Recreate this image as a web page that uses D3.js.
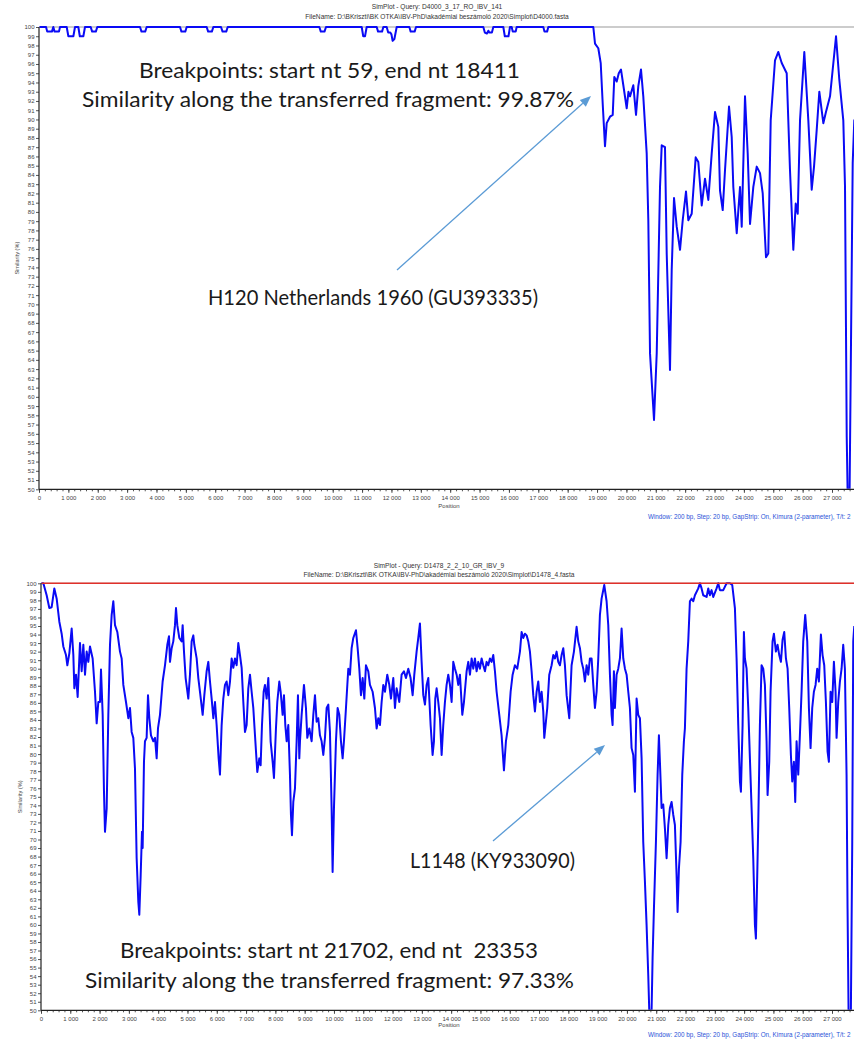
<!DOCTYPE html>
<html><head><meta charset="utf-8">
<script src="https://cdn.jsdelivr.net/npm/d3@7"></script>
<style>body{margin:0;background:#fff;} svg{display:block;} text{white-space:pre;}</style>
</head><body>
<svg id="c" width="854" height="1040"></svg>
<script>
// ---------- DATA ----------
const yTickValues = d3.range(50, 101, 1);
const xMajorTicks = d3.range(0, 27001, 1000);
const xMinorTicks = d3.range(0, 27801, 200);

const topTitle = "SimPlot - Query: D4000_3_17_RO_IBV_141";
const topFile = "FileName: D:\\BKriszti\\BK OTKA\\IBV-PhD\\akadémiai beszámoló 2020\\Simplot\\D4000.fasta";
const botTitle = "SimPlot - Query: D1478_2_2_10_GR_IBV_9";
const botFile = "FileName: D:\\BKriszti\\BK OTKA\\IBV-PhD\\akadémiai beszámoló 2020\\Simplot\\D1478_4.fasta";
const footer = "Window: 200 bp, Step: 20 bp, GapStrip: On, Kimura (2-parameter), T/t: 2";

const topPositions = [0,240,280,440,487,530,680,715,943,1000,1170,1226,1339,1390,1510,1566,1760,1810,1935,1985,
3439,3490,3615,3667,4801,4850,4980,5029,5709,5760,5885,5936,6197,6250,6375,6425,9545,9595,9720,9772,
10987,11040,11100,11157,11498,11545,11680,11724,11838,11890,11960,12000,12040,12100,12179,12609,12655,12790,12837,
15128,15180,15250,15300,15330,15420,15469,15809,15860,15985,16036,16094,16130,16230,16264,17171,17210,17300,17341,
18873,18931,19043,19125,19193,19271,19329,19442,19534,19588,19670,19740,19816,19895,20010,20070,20123,20235,20327,20405,20497,20575,
20691,20746,20804,20940,21032,21144,21202,21314,21372,21484,21542,21621,21713,21825,21917,22029,22108,22223,22359,22448,
22564,22676,22789,22904,23017,23129,23187,23279,23357,23494,23585,23640,23756,23868,23926,24038,24130,24209,24321,24437,
24549,24641,24753,24831,24913,25060,25172,25288,25458,25570,25683,25765,25833,25911,26057,26194,26309,26388,26480,26568,
26705,26786,26933,27137,27249,27385,27443,27501,27530,27600,27705,27760];
const topSimilarity = [100,100,99.5,99.5,100,99.5,99.5,100,100,99,99,100,100,99,99,100,100,99.5,99.5,100,
100,99.5,99.5,100,100,99.5,99.5,100,100,99.5,99.5,100,100,99.5,99.5,100,100,99.5,99.5,100,
100,99,99,100,100,99.5,99.5,100,100,99.4,99.4,99.2,98.5,98.7,100,100,99.5,99.5,100,
100,99.4,99.3,99.6,99.4,99.4,100,100,99,99,100,100,99.5,99.5,100,100,99.5,99.5,100,
100,98.2,97.7,96.1,91.7,87.1,89.6,90.3,90.5,94.6,94.1,95.0,95.4,93.7,91.2,93.0,92.5,93.7,90.5,93.6,95.4,92.5,
86.3,79.1,64.7,57.5,64.7,82.7,87.2,87.0,75.5,62.9,73.7,81.5,78.4,75.9,79.1,82.2,79.1,79.8,85.9,85.4,
80.7,83.6,81.3,86.3,90.8,89.2,82.3,80.2,84.5,91.4,88.1,82.7,77.7,82.7,78.4,92.5,86.3,78.7,82.7,84.9,
84.2,82.0,75.1,75.5,89.9,96.4,97.3,96.1,95.0,84.5,75.9,80.9,79.8,89.9,97.3,89.9,82.4,84.9,88.9,93.0,
89.6,90.7,92.5,99.0,94.3,89.9,82.7,55.7,50,50,85.3,90];

const botPositions = [0,80,193,284,364,455,535,626,705,762,853,899,967,1047,1104,1138,1195,1251,1331,1388,1445,1502,1559,1615,1672,1763,1843,1900,1957,2014,
2048,2105,2150,2184,2241,2298,2355,2412,2469,2526,2605,2696,2753,2810,2901,2981,3038,3094,3151,3208,3265,3322,3356,3402,3447,3470,3515,3549,3606,3652,
3697,3754,3834,3891,3948,3993,4061,4152,4232,4312,4369,4403,4460,4516,4573,4608,4653,4721,4801,4835,4881,4937,5028,5085,5142,5199,5233,5313,5370,5427,
5518,5575,5654,5711,5768,5825,5882,5939,5995,6064,6109,6166,6223,6280,6337,6394,6451,6507,6564,6621,6678,6735,6792,6849,6906,6962,7019,7076,7133,7190,
7247,7304,7383,7452,7497,7543,7600,7645,7702,7759,7793,7838,7907,7952,8020,8066,8134,8180,8248,8294,8339,8385,8441,8498,8532,8567,8612,8669,8726,8771,8817,
8840,8896,8976,9044,9090,9158,9238,9295,9352,9408,9465,9522,9579,9636,9693,9750,9807,9863,9920,9954,10000,10068,10125,10182,10239,10296,10341,10410,10489,10546,
10603,10660,10751,10808,10865,10922,10979,11036,11092,11172,11229,11320,11399,11456,11513,11570,11627,11684,11741,11820,11889,11945,12025,12082,12139,12230,12309,12389,12457,12537,
12616,12685,12742,12821,12878,12935,12992,13049,13106,13163,13220,13299,13367,13413,13458,13504,13561,13618,13675,13731,13788,13845,13902,13959,14016,14073,14130,14187,14243,14300,
14380,14437,14528,14585,14642,14699,14755,14812,14869,14926,14983,15040,15097,15154,15210,15267,15324,15381,15438,15495,15552,15643,15722,15802,15870,15950,16030,16098,16177,16257,
16348,16405,16462,16519,16576,16633,16689,16746,16803,16860,16917,16974,17031,17088,17144,17179,17235,17281,17349,17429,17486,17543,17599,17656,17713,17770,17827,17884,17941,18032,
18111,18191,18282,18339,18396,18453,18510,18567,18623,18680,18737,18794,18851,18908,18965,19022,19078,19135,19226,19306,19363,19420,19477,19511,19556,19590,19647,19704,19761,19818,
19875,19932,19989,20046,20102,20159,20216,20273,20330,20387,20444,20501,20557,20614,20671,20728,20762,20842,20876,20922,20990,21047,21092,21126,21183,21240,21297,21354,21411,21468,
21524,21581,21638,21695,21729,21775,21832,21889,21945,21979,22036,22093,22150,22207,22264,22321,22435,22491,22548,22605,22719,22776,22833,22890,22947,23060,23117,23174,23288,23402,
23515,23595,23686,23743,23800,23857,23891,23948,23993,24027,24084,24141,24198,24255,24312,24369,24403,24448,24482,24539,24596,24653,24710,24767,24801,24858,24903,24971,25017,25085,
25142,25199,25256,25313,25370,25427,25484,25540,25597,25643,25700,25745,25791,25848,25904,25961,26018,26086,26155,26212,26268,26325,26382,26439,26496,26553,26621,26678,26735,26792,
26849,26894,26951,27008,27065,27122,27156,27213,27270,27327,27383,27440,27497,27531,27565,27645,27691,27725,27760];
const botSimilarity = [100,100,98.6,97.1,97.2,99.4,98.2,95.5,94.1,92.6,91.6,90.4,91.8,94.7,91.6,87.7,89.3,86.7,93.0,89.7,92.8,89.3,92.0,90.8,92.6,91.2,87.3,83.6,86.1,86.1,
89.9,84.6,75.6,70.9,73.6,84.6,92.8,96.3,97.9,95.1,94.3,92.0,91.2,88.1,86.1,84.2,85.4,82.6,81.9,78.3,67.8,62.7,61.2,65.8,70.9,69.0,79.1,81.5,81.9,86.9,
84.2,82.2,81.5,81.9,79.5,83.0,84.6,88.5,90.4,92.8,93.8,90.8,92.4,93.2,95.1,97.1,95.1,93.6,93.2,95.1,92.0,88.9,86.5,89.3,93.2,93.9,92.8,91.2,88.9,87.3,
84.6,86.9,89.7,90.8,88.5,86.5,84.2,86.1,83.4,79.5,77.6,83.4,86.5,88.1,88.5,86.9,88.5,91.2,90.1,91.2,90.4,93.0,91.6,90.1,86.1,82.6,83.4,87.7,89.3,87.3,
85.4,82.2,77.9,79.5,78.7,83.4,87.3,88.1,86.5,88.9,86.1,81.5,79.1,77.2,83.0,86.1,88.5,87.3,84.6,86.9,83.4,81.5,83.4,77.6,72.9,70.5,74.4,76.0,81.5,86.9,79.5,
81.5,84.6,88.1,85.4,81.9,83.0,81.5,84.6,86.9,83.8,84.2,82.2,81.5,79.9,81.9,85.4,85.8,82.6,73.7,66.2,73.7,81.5,85.4,84.6,81.5,79.5,81.5,85.4,90.0,89.3,
92.4,93.6,94.5,92.4,90.0,86.9,88.9,86.5,90.4,89.7,88.1,87.3,85.4,83.0,84.2,83.4,86.1,88.1,87.3,89.3,88.1,86.5,88.9,85.4,87.7,86.1,89.3,89.7,88.9,90.0,
88.9,86.9,89.3,92.0,93.6,95.3,90.8,86.9,85.8,88.1,88.9,83.4,79.9,81.5,86.5,87.7,86.1,84.2,79.9,83.4,86.1,88.1,89.3,88.1,86.1,90.8,90.0,89.3,88.1,89.3,
84.6,86.1,89.7,90.8,89.3,91.2,90.0,91.2,89.7,90.8,90.0,91.2,90.4,89.7,90.8,90.4,91.2,90.8,91.6,89.7,87.3,84.6,82.2,78.1,81.5,83.4,87.3,89.3,90.4,90.0,
92.0,94.3,93.6,94.1,93.9,93.2,92.0,89.7,86.9,85.0,87.3,88.5,86.1,87.3,85.0,81.9,83.8,85.4,89.3,90.4,91.6,91.2,92.0,90.8,90.4,91.6,92.4,90.4,86.9,84.2,
90.4,92.0,94.9,93.2,92.4,90.8,90.0,88.5,90.4,89.3,91.2,91.2,88.1,85.4,87.3,91.2,96.3,98.2,99.8,97.9,95.1,89.3,84.6,83.4,89.7,85.4,89.3,90.0,91.2,94.7,
91.2,90.0,89.3,87.3,85.4,80.7,79.9,75.6,86.5,84.6,84.2,79.5,69.7,65.1,60.0,54.1,50,50,56.1,61.9,69.7,77.6,82.2,79.1,73.7,74.1,71.3,67.8,71.7,73.7,
74.4,72.9,71.7,65.8,61.5,66.6,69.7,77.6,81.5,83.0,90.0,93.2,97.9,98.2,97.9,98.6,99.4,100,99.4,98.6,98.4,99.4,98.6,99.2,98.4,99.4,100,99.2,99.2,100,
100,99.8,97.1,91.2,83.4,76.8,75.6,83.4,94.3,91.2,90.0,85.4,79.5,73.7,67.8,60.0,58.4,65.8,71.7,83.4,90.4,90.0,88.1,81.5,75.2,79.1,87.3,93.2,94.1,92.0,
92.8,91.6,90.8,93.4,94.3,91.2,90.0,85.4,79.9,76.8,79.1,74.4,81.5,77.6,82.2,87.3,93.2,96.3,93.2,85.4,80.7,85.4,87.3,88.1,90.0,88.5,94.0,91.6,90.4,86.1,
80.3,79.1,87.3,86.1,90.8,87.3,81.9,86.1,88.5,90.0,92.8,90.0,77.6,61.9,50,50,69.7,93.2,95];

// ---------- DRAW ----------
const svg = d3.select("#c");
const SANS = "'Liberation Sans', Arial, sans-serif";
const ANN = "Lato, 'Open Sans', sans-serif";
const fmtPos = d => d3.format(",")(d).replace(/,/g, " ");

function panel(cfg, idx) {
  const g = svg.append("g");
  const x = d3.scaleLinear().domain([0, 27000]).range([cfg.x0, cfg.x27]);
  const y = d3.scaleLinear().domain([50, 100]).range([cfg.yB, cfg.yT]);
  const right = 854;

  g.append("text").attr("x", cfg.tx).attr("y", cfg.t1y).attr("text-anchor", "middle")
    .attr("font-family", SANS).attr("font-size", 6.6).attr("fill", "#333").text(cfg.title);
  g.append("text").attr("x", cfg.tx).attr("y", cfg.t2y).attr("text-anchor", "middle")
    .attr("font-family", SANS).attr("font-size", 6.6).attr("fill", "#333").text(cfg.file);

  g.append("line").attr("x1", cfg.x0).attr("x2", right).attr("y1", cfg.yT).attr("y2", cfg.yT)
    .attr("stroke", "#999").attr("stroke-width", 1);

  const ya = g.append("g").attr("transform", `translate(${cfg.x0},0)`)
    .call(d3.axisLeft(y).tickValues(yTickValues).tickSize(3).tickPadding(1.5).tickFormat(d3.format("d")));
  ya.select(".domain").remove();
  ya.selectAll("line").attr("stroke", "#555");
  ya.selectAll("text").attr("font-family", SANS).attr("font-size", 6).attr("fill", "#444");

  const xa = g.append("g").attr("transform", `translate(0,${cfg.yB})`);
  xa.call(d3.axisBottom(x).tickValues(xMinorTicks).tickSize(2).tickFormat(""));
  xa.select(".domain").remove();
  xa.selectAll("line").attr("stroke", "#555");
  const xb = g.append("g").attr("transform", `translate(0,${cfg.yB})`)
    .call(d3.axisBottom(x).tickValues(xMajorTicks).tickSize(3.5).tickPadding(2.5).tickFormat(fmtPos));
  xb.select(".domain").remove();
  xb.selectAll("line").attr("stroke", "#444");
  xb.selectAll("text").attr("font-family", SANS).attr("font-size", 6).attr("fill", "#444");

  g.append("text").attr("x", 449).attr("y", cfg.yB + cfg.posDy).attr("text-anchor", "middle")
    .attr("font-family", SANS).attr("font-size", 6).attr("fill", "#444").text("Position");
  g.append("text").attr("transform", `translate(${cfg.ytx},${(cfg.yT + cfg.yB) / 2}) rotate(-90)`)
    .attr("text-anchor", "middle").attr("font-family", SANS).attr("font-size", 5.6).attr("fill", "#444")
    .text("Similarity (%)");

  g.append("text").attr("x", 648).attr("y", cfg.yB + cfg.footDy).attr("font-family", SANS)
    .attr("font-size", 6.3).attr("fill", "#2a52d8").text(footer);

  g.append("clipPath").attr("id", "clip" + idx).append("rect")
    .attr("x", cfg.x0 + 0.5).attr("y", cfg.yT - 2).attr("width", right - cfg.x0).attr("height", cfg.yB - cfg.yT + 1.5);

  const pts = cfg.pos.map((p, i) => [p, cfg.val[i]]);
  const line = d3.line().x(d => x(d[0])).y(d => y(Math.max(50, d[1])));
  g.append("path").datum(pts).attr("clip-path", `url(#clip${idx})`).attr("d", line)
    .attr("fill", "none").attr("stroke", "#0a0af5").attr("stroke-width", 2).attr("stroke-linejoin", "round");

  if (cfg.refColor) {
    g.append("path").datum([[0, 100], [27800, 100]]).attr("clip-path", `url(#clip${idx})`).attr("d", line)
      .attr("fill", "none").attr("stroke", cfg.refColor).attr("stroke-width", 1.6);
  }

  g.append("line").attr("x1", cfg.x0).attr("x2", cfg.x0).attr("y1", cfg.yT).attr("y2", cfg.yB)
    .attr("stroke", "#222").attr("stroke-width", 1.2);
  g.append("line").attr("x1", cfg.x0).attr("x2", right).attr("y1", cfg.yB).attr("y2", cfg.yB)
    .attr("stroke", "#222").attr("stroke-width", 1.2);

  cfg.texts.forEach(t => {
    g.append("text").attr("x", t.x1).attr("y", t.y).attr("font-family", ANN).attr("font-size", 21.5)
      .attr("fill", "#1a1a1a").attr("textLength", t.x2 - t.x1).attr("lengthAdjust", "spacingAndGlyphs")
      .text(t.s);
  });
  const a = cfg.arrow;
  const ang = Math.atan2(a.y2 - a.y1, a.x2 - a.x1);
  const L = 11, W = 4.5;
  const bx = a.x2 - L * Math.cos(ang), by = a.y2 - L * Math.sin(ang);
  g.append("line").attr("x1", a.x1).attr("y1", a.y1).attr("x2", bx).attr("y2", by)
    .attr("stroke", "#5b9bd5").attr("stroke-width", 1.3);
  g.append("path").attr("d", `M${a.x2},${a.y2}L${bx - W * Math.sin(ang)},${by + W * Math.cos(ang)}L${bx + W * Math.sin(ang)},${by - W * Math.cos(ang)}Z`)
    .attr("fill", "#5b9bd5");
}

panel({
  x0: 39, x27: 832, yT: 27, yB: 489.3, tx: 437, t1y: 9, t2y: 19, ytx: 19, posDy: 19, footDy: 30,
  title: topTitle, file: topFile, pos: topPositions, val: topSimilarity, refColor: null,
  texts: [
    {s: "Breakpoints: start nt 59, end nt 18411", x1: 139, x2: 520, y: 78},
    {s: "Similarity along the transferred fragment: 99.87%", x1: 82, x2: 574, y: 107},
    {s: "H120 Netherlands 1960 (GU393335)", x1: 208, x2: 538, y: 305}
  ],
  arrow: {x1: 397, y1: 270, x2: 591, y2: 96}
}, 0);

panel({
  x0: 41, x27: 832, yT: 583.3, yB: 1010.3, tx: 439, t1y: 568, t2y: 577, ytx: 22, posDy: 17, footDy: 27,
  title: botTitle, file: botFile, pos: botPositions, val: botSimilarity, refColor: "#e0302a",
  texts: [
    {s: "L1148 (KY933090)", x1: 410, x2: 575, y: 868},
    {s: "Breakpoints: start nt 21702, end nt  23353", x1: 120, x2: 538, y: 958},
    {s: "Similarity along the transferred fragment: 97.33%", x1: 85, x2: 574, y: 988}
  ],
  arrow: {x1: 493, y1: 841, x2: 605, y2: 745}
}, 1);
</script>
</body></html>
